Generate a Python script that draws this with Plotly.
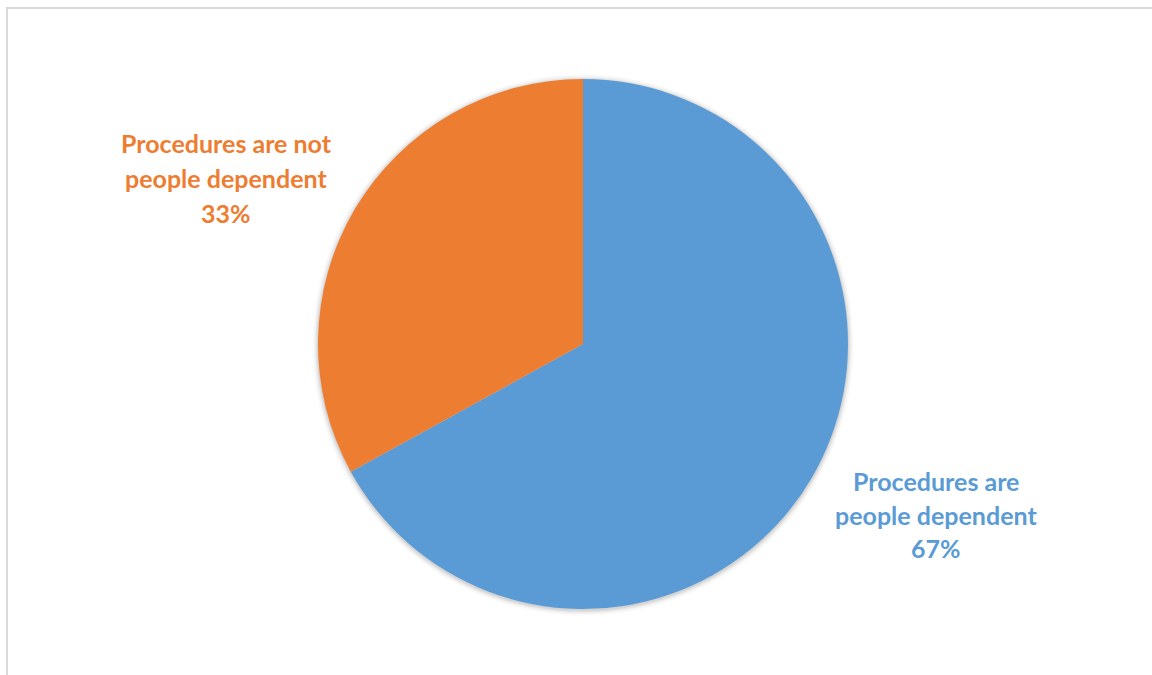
import plotly.graph_objects as go

# Survey split
categories = ["Procedures are people dependent", "Procedures are not people dependent"]
values = [67, 33]
colors = ["#5B9BD5", "#ED7D31"]

# Label lines as they wrap beside each slice
label_lines = [
    ["Procedures are", "people dependent"],
    ["Procedures are not", "people dependent"],
]

W, H = 1152, 675

# Pie placement in pixels (centre and radius)
cx, cy, r = 583, 344, 265


def px(x):
    return x / W


def py(y):
    return 1 - y / H


fig = go.Figure(
    go.Pie(
        labels=categories,
        values=values,
        marker=dict(colors=colors, line=dict(width=0)),
        sort=False,
        direction="clockwise",
        rotation=0,
        textinfo="none",
        hoverinfo="label+percent",
        domain=dict(x=[px(cx - r), px(cx + r)], y=[py(cy + r), py(cy - r)]),
        showlegend=False,
    )
)

shapes = []
# Soft drop shadow under the pie
for i, op in enumerate([0.05, 0.04, 0.03, 0.02, 0.015, 0.01]):
    rr = r + 1 + i
    shapes.append(
        dict(
            type="circle",
            xref="paper",
            yref="paper",
            x0=px(cx - rr),
            x1=px(cx + rr),
            y0=py(cy + rr + 1),
            y1=py(cy - rr + 1),
            fillcolor="rgba(0,0,0,1)",
            opacity=op,
            line=dict(width=0),
            layer="below",
        )
    )

# Chart area border
shapes.append(
    dict(
        type="rect",
        xref="paper",
        yref="paper",
        x0=px(7),
        x1=px(W + 10),
        y0=py(H + 10),
        y1=py(8),
        line=dict(color="#D9D9D9", width=2),
        fillcolor="rgba(0,0,0,0)",
        layer="below",
    )
)

# Data label blocks: centre x and first-line y in pixels, line step
label_pos = [(936, 481, 33.5), (226, 143, 35)]

annotations = []
for (lx, ly, step), lines, val, col in zip(label_pos, label_lines, values, colors):
    all_lines = lines + [f"{val}%"]
    for k, t in enumerate(all_lines):
        annotations.append(
            dict(
                x=px(lx),
                y=py(ly + k * step),
                xref="paper",
                yref="paper",
                text=t,
                showarrow=False,
                xanchor="center",
                yanchor="middle",
                font=dict(family="Lato", size=25, color=col, weight="bold"),
            )
        )

fig.update_layout(
    width=W,
    height=H,
    margin=dict(l=0, r=0, t=0, b=0),
    paper_bgcolor="white",
    plot_bgcolor="white",
    shapes=shapes,
    annotations=annotations,
)

fig.write_html("out.html")
